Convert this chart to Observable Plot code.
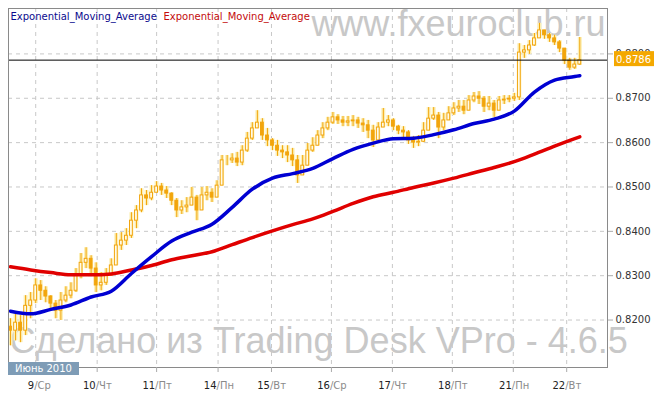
<!DOCTYPE html>
<html>
<head>
<meta charset="utf-8">
<script src="https://cdn.jsdelivr.net/npm/d3@7"></script>
<script src="https://cdn.jsdelivr.net/npm/@observablehq/plot@0.6"></script>
<style>
  html, body { margin: 0; padding: 0; background: white; }
  #chart { position: relative; width: 660px; height: 397px; overflow: hidden; }
</style>
</head>
<body>
<div id="chart"></div>
<script>
// ---- data (2-hour bars) ----
const firstOpen = 0.8185;
const closes = [0.8176,0.8194,0.8176,0.8232,0.8244,0.8278,0.8266,0.8253,0.8237,0.8221,
  0.8244,0.8255,0.8266,0.8300,0.8329,0.8338,0.8316,0.8278,0.8284,0.8300,
  0.8323,0.8368,0.8379,0.8390,0.8424,0.8447,0.8481,0.8474,0.8487,0.8501,
  0.8492,0.8485,0.8469,0.8447,0.8454,0.8458,0.8476,0.8447,0.8481,0.8487,
  0.8476,0.8503,0.8560,0.8560,0.8564,0.8555,0.8582,0.8609,0.8632,0.8645,
  0.8616,0.8605,0.8593,0.8582,0.8578,0.8571,0.8560,0.8526,0.8548,0.8582,
  0.8593,0.8616,0.8632,0.8645,0.8657,0.8650,0.8645,0.8648,0.8650,0.8643,
  0.8639,0.8627,0.8605,0.8634,0.8645,0.8650,0.8636,0.8627,0.8623,0.8605,
  0.8600,0.8602,0.8627,0.8654,0.8661,0.8634,0.8650,0.8666,0.8677,0.8681,
  0.8672,0.8695,0.8704,0.8699,0.8681,0.8688,0.8672,0.8695,0.8697,0.8699,
  0.8702,0.8803,0.8808,0.8819,0.8835,0.8853,0.8842,0.8835,0.8826,0.8812,
  0.8785,0.8769,0.8776,0.8786];
const highs = [0.8203,0.8217,0.8210,0.8255,0.8262,0.8293,0.8289,0.8275,0.8255,0.8244,
  0.8262,0.8275,0.8284,0.8316,0.8350,0.8363,0.8345,0.8329,0.8307,0.8316,
  0.8338,0.8395,0.8397,0.8406,0.8442,0.8458,0.8496,0.8492,0.8503,0.8512,
  0.8508,0.8501,0.8487,0.8474,0.8469,0.8476,0.8499,0.8481,0.8499,0.8501,
  0.8496,0.8514,0.8571,0.8571,0.8575,0.8578,0.8593,0.8623,0.8645,0.8672,
  0.8654,0.8632,0.8609,0.8605,0.8593,0.8593,0.8587,0.8571,0.8571,0.8598,
  0.8611,0.8627,0.8645,0.8657,0.8668,0.8663,0.8659,0.8659,0.8661,0.8657,
  0.8654,0.8650,0.8639,0.8645,0.8677,0.8661,0.8654,0.8639,0.8636,0.8627,
  0.8614,0.8616,0.8645,0.8679,0.8679,0.8668,0.8666,0.8681,0.8690,0.8695,
  0.8695,0.8706,0.8713,0.8715,0.8704,0.8704,0.8695,0.8704,0.8706,0.8706,
  0.8711,0.8823,0.8819,0.8830,0.8846,0.8869,0.8853,0.8846,0.8842,0.8830,
  0.8812,0.8790,0.8790,0.8837];
const lows = [0.8142,0.8153,0.8149,0.8165,0.8203,0.8237,0.8244,0.8239,0.8221,0.8203,
  0.8199,0.8239,0.8248,0.8262,0.8293,0.8316,0.8300,0.8262,0.8266,0.8278,
  0.8307,0.8329,0.8357,0.8368,0.8384,0.8406,0.8442,0.8458,0.8469,0.8487,
  0.8481,0.8474,0.8458,0.8431,0.8438,0.8442,0.8458,0.8424,0.8458,0.8469,
  0.8465,0.8481,0.8532,0.8548,0.8553,0.8546,0.8548,0.8578,0.8605,0.8632,
  0.8605,0.8591,0.8582,0.8569,0.8564,0.8555,0.8546,0.8508,0.8526,0.8560,
  0.8578,0.8593,0.8609,0.8627,0.8641,0.8641,0.8636,0.8636,0.8636,0.8632,
  0.8623,0.8609,0.8589,0.8616,0.8634,0.8636,0.8627,0.8618,0.8609,0.8596,
  0.8587,0.8591,0.8600,0.8639,0.8650,0.8609,0.8627,0.8650,0.8661,0.8668,
  0.8663,0.8677,0.8690,0.8686,0.8668,0.8672,0.8657,0.8681,0.8686,0.8690,
  0.8693,0.8695,0.8790,0.8799,0.8817,0.8835,0.8833,0.8826,0.8819,0.8803,
  0.8776,0.8763,0.8765,0.8774];

// EMA samples (bar index -> value)
const emaBars = [0,4,8,12,16,20,24,28,32,36,40,44,48,52,56,60,64,68,72,76,80,84,88,92,96,100,104,108,112,113];
const emaFast = [0.8220,0.8214,0.8224,0.8234,0.8252,0.8265,0.8305,0.8343,0.8378,0.8398,
  0.8416,0.8454,0.8495,0.8520,0.8530,0.8542,0.8564,0.8585,0.8599,0.8609,
  0.8610,0.8618,0.8629,0.8643,0.8653,0.8671,0.8714,0.8741,0.8749,0.8751];
const emaSlow = [0.8320,0.8313,0.8307,0.8302,0.8302,0.8304,0.8313,0.8323,0.8336,0.8345,
  0.8354,0.8370,0.8386,0.8401,0.8415,0.8428,0.8445,0.8463,0.8478,0.8488,
  0.8499,0.8509,0.8520,0.8532,0.8544,0.8557,0.8574,0.8592,0.8609,0.8613];

// axis ticks and labels
const dayTicks = [5, 17.2, 29, 41.2, 51.8, 63.7, 75.8, 87.7, 99.8, 110.4];
const dayNums = ["9","10","11","14","15","16","17","18","21","22"];
const dayNames = ["Ср","Чт","Пт","Пн","Вт","Ср","Чт","Пт","Пн","Вт"];
const yTicks = [0.82, 0.83, 0.84, 0.85, 0.86, 0.87, 0.88];
const legendLabels = ["Exponential_Moving_Average", "Exponential_Moving_Average"];
const monthLabel = "Июнь 2010";
const watermarkTop = "www.fxeuroclub.ru";
const watermarkBottom = "Сделано из Trading Desk VPro - 4.6.5";

// ---- build tables ----
const bars = closes.map((c, i) => {
  const open = i === 0 ? firstOpen : closes[i - 1];
  return {i, open, close: c,
    high: Math.max(highs[i], open, c),
    low: Math.min(lows[i], open, c)};
});
const fast = emaBars.map((b, k) => ({i: b, v: emaFast[k]}));
const slow = emaBars.map((b, k) => ({i: b, v: emaSlow[k]}));
const days = dayTicks.map((t, k) => ({t, n: dayNums[k], s: "/" + dayNames[k]}));
const last = closes[closes.length - 1];

const ORANGE = "#f2a50c";
const GRID = "#c8c8c8";
const WM = "#c8c8c8";
const WMFONT = "'Liberation Sans', Arial, sans-serif";

const plot = Plot.plot({
  width: 660, height: 397,
  marginLeft: 8, marginRight: 53, marginTop: 8, marginBottom: 30,
  style: {fontFamily: "'DejaVu Sans', Verdana, sans-serif", fontSize: "10px", background: "white", overflow: "visible"},
  x: {type: "linear", domain: [-0.4, 118.5], axis: null},
  y: {domain: [0.8093, 0.89024], axis: null},
  marks: [
    Plot.text([watermarkTop], {frameAnchor: "top-right", lineAnchor: "top", textAnchor: "end", fontSize: 36, fontFamily: WMFONT, fill: WM, dx: -2, dy: 1.5}),
    Plot.text([watermarkBottom], {frameAnchor: "bottom-left", lineAnchor: "bottom", textAnchor: "start", fontSize: 36, fontFamily: WMFONT, fill: WM, dx: 1, dy: -14.5}),
    Plot.ruleY(yTicks, {stroke: GRID, strokeDasharray: "4,4"}),
    Plot.ruleX(dayTicks, {stroke: GRID, strokeDasharray: "4,4"}),
    Plot.ruleX(bars, {x: "i", y1: "low", y2: "high", stroke: "#fcefb4", strokeWidth: 4}),
    Plot.ruleX(bars, {x: "i", y1: "low", y2: "high", stroke: ORANGE, strokeWidth: 1}),
    Plot.rect(bars, {x1: d => d.i - 0.28, x2: d => d.i + 0.28, y1: "open", y2: "close",
      fill: d => d.close >= d.open ? "#fffbe6" : ORANGE, stroke: ORANGE, strokeWidth: 1}),
    Plot.line(slow, {x: "i", y: "v", stroke: "#e00000", strokeWidth: 3.5, curve: "monotone-x"}),
    Plot.line(fast, {x: "i", y: "v", stroke: "#0000d2", strokeWidth: 3.5, curve: "monotone-x"}),
    Plot.ruleY([last], {stroke: "black", strokeWidth: 1}),
    Plot.frame({stroke: "#8a8a8a"}),
    Plot.axisY(yTicks, {anchor: "right", tickFormat: d => d.toFixed(4), tickSize: 5, tickPadding: 3, stroke: "#aaa", fill: "#333", fontSize: 10}),
    Plot.axisX(dayTicks, {anchor: "bottom", tickSize: 5, tickFormat: () => "", stroke: "#aaa"}),
    Plot.text(days, {x: "t", text: "n", frameAnchor: "bottom", lineAnchor: "bottom", dy: 21, textAnchor: "end", dx: -1.5, fill: "#222"}),
    Plot.text(days, {x: "t", text: "s", frameAnchor: "bottom", lineAnchor: "bottom", dy: 21, textAnchor: "start", dx: -1.5, fill: "#8a8a8a"}),
    Plot.text([legendLabels[0]], {frameAnchor: "top-left", lineAnchor: "top", textAnchor: "start", dx: 2, dy: 4, fill: "#0b0b8e"}),
    Plot.text([legendLabels[1]], {frameAnchor: "top-left", lineAnchor: "top", textAnchor: "start", dx: 155, dy: 4, fill: "#c40c0c"})
  ]
});

// price tag and month tag, positioned from the scales
const svg = d3.select(plot);
const yPos = plot.scale("y").apply(last);
const tag = svg.append("g").attr("text-anchor", "start");
tag.append("rect").attr("x", 614).attr("y", yPos - 8.5).attr("width", 40).attr("height", 15).attr("fill", "#f4a800");
tag.append("text").attr("x", 616).attr("y", yPos + 3.3).attr("fill", "white")
  .attr("font-size", 10).attr("text-anchor", "start").text(last.toFixed(4));
const mg = svg.append("g").attr("text-anchor", "start");
mg.append("rect").attr("x", 8).attr("y", 362).attr("width", 71).attr("height", 13).attr("fill", "#7e9cb6");
mg.append("text").attr("x", 15).attr("y", 372).attr("fill", "white").attr("font-size", 10)
  .attr("text-anchor", "start").text(monthLabel);

document.getElementById("chart").appendChild(plot);
</script>
</body>
</html>
